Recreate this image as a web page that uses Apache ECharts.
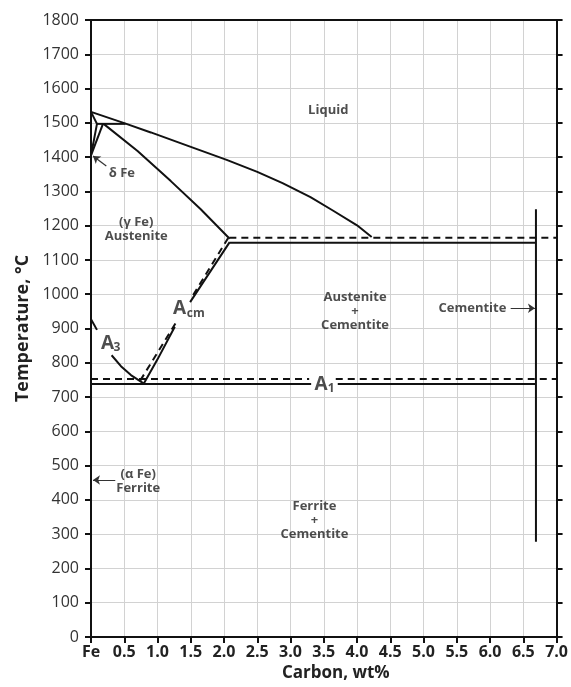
<!DOCTYPE html>
<html>
<head>
<meta charset="utf-8">
<script src="https://cdn.jsdelivr.net/npm/echarts@6/dist/echarts.min.js"></script>
<style>
html,body{margin:0;padding:0;background:#fff;}
#chart{width:571px;height:687px;}
</style>
</head>
<body>
<div id="chart"></div>
<script>
// ---- data (wt% C, °C) ----
const xTicks = ['Fe','0.5','1.0','1.5','2.0','2.5','3.0','3.5','4.0','4.5','5.0','5.5','6.0','6.5','7.0'];
const liquidus = [[0,1532],[0.5,1499],[0.9,1472],[1.5,1430],[2.04,1392],[2.5,1357],[2.88,1324],[3.3,1283],[3.63,1245],[4.0,1201],[4.22,1167]];
const solidusGamma = [[0.19,1497],[0.7,1418],[1.2,1330],[1.65,1248],[2.085,1162]];
const deltaSolidus = [[0,1532],[0.09,1497]];
const deltaLeft = [[0,1405],[0.09,1497]];
const deltaRight = [[0,1405],[0.18,1497]];
const peritectic = [[0.09,1497],[0.52,1497]];
const a3Upper = [[0,927],[0.09,896]];
const a3Lower = [[0.31,822],[0.45,790],[0.6,764],[0.79,740]];
const acmSolidLower = [[0.79,738],[1.0,810],[1.26,905]];
const acmSolidUpper = [[1.49,977],[1.8,1068],[2.085,1152]];
const acmDashedLower = [[0.74,748],[1.287,920]];
const acmDashedUpper = [[1.536,998],[2.06,1163]];
const eutecticSolid = [[2.085,1150],[6.69,1150]];
const eutecticDashed = [[2.08,1165],[7.0,1165]];
const a1SolidLeft = [[0,738],[3.31,738]];
const a1SolidRight = [[3.71,738],[6.69,738]];
const a1DashedLeft = [[0,753],[3.28,753]];
const a1DashedRight = [[3.68,753],[7.0,753]];
const cementiteLine = [[6.69,278],[6.69,1248]];

const regionLabels = [
  {name:'Liquid', value:[3.567,1537]},
  {name:'δ Fe', value:[0.464,1353]},
  {name:'(γ Fe)\nAustenite', value:[0.68,1189]},
  {name:'Austenite\n+\nCementite', value:[3.97,949]},
  {name:'Cementite', value:[5.735,959]},
  {name:'(α Fe)\nFerrite', value:[0.71,455]},
  {name:'Ferrite\n+\nCementite', value:[3.36,341]}
];
const bigLabels = [
  {name:'A', value:[1.333,957]},
  {name:'A', value:[0.25,855]},
  {name:'A', value:[3.46,736]}
];
const subLabels = [
  {name:'cm', value:[1.575,944]},
  {name:'3', value:[0.39,844]},
  {name:'1', value:[3.61,726]}
];
const arrows = [
  [[0.23,1374],[0.03,1403]],
  [[6.31,959],[6.675,959]],
  [[0.365,458],[0.03,458]]
];

const FONT = 'Open Sans';
const solid = (d) => ({type:'line', data:d, symbol:'none', z:3, silent:true,
  lineStyle:{color:'#111', width:2}});
const dashed = (d) => ({type:'line', data:d, symbol:'none', z:3, silent:true,
  lineStyle:{color:'#111', width:2, type:[7,5]}});
const textSeries = (data, z, label) => ({type:'scatter', data:data, symbol:'circle', symbolSize:1,
  itemStyle:{color:'rgba(0,0,0,0)'}, z:z, silent:true,
  label:Object.assign({show:true, position:'inside', formatter:'{b}', fontFamily:FONT,
    fontWeight:'bold', color:'#222', align:'center', verticalAlign:'middle'}, label)});

const chart = echarts.init(document.getElementById('chart'));
chart.setOption({
  animation:false,
  backgroundColor:'#fff',
  grid:{left:91, right:13, top:20, bottom:50},
  xAxis:[{
    type:'value', min:0, max:7, interval:0.5,
    axisLine:{show:true, onZero:false, lineStyle:{color:'#111', width:2}},
    axisTick:{show:true, length:6, lineStyle:{color:'#111', width:2}},
    axisLabel:{formatter:(v)=>xTicks[Math.round(v*2)], fontFamily:FONT, fontSize:16, fontWeight:'bold', color:'#222', margin:7},
    splitLine:{show:true, lineStyle:{color:'#d2d2d2', width:1}},
    name:'Carbon, wt%', nameLocation:'middle', nameGap:26,
    nameTextStyle:{fontFamily:FONT, fontSize:17, fontWeight:'bold', color:'#222', padding:[0,0,0,24]}
  },{
    type:'value', min:0, max:7, interval:0.5, position:'top',
    axisLine:{show:true, onZero:false, lineStyle:{color:'#111', width:2}},
    axisTick:{show:false}, axisLabel:{show:false}, splitLine:{show:false}
  }],
  yAxis:[{
    type:'value', min:0, max:1800, interval:100,
    axisLine:{show:true, onZero:false, lineStyle:{color:'#111', width:2}},
    axisTick:{show:true, length:6, lineStyle:{color:'#111', width:2}},
    axisLabel:{formatter:(v)=>String(v), fontFamily:FONT, fontSize:16, color:'#333', margin:12},
    splitLine:{show:true, lineStyle:{color:'#d2d2d2', width:1}},
    name:'Temperature, °C', nameLocation:'middle', nameRotate:90, nameGap:58,
    nameTextStyle:{fontFamily:FONT, fontSize:18, fontWeight:'bold', color:'#222'}
  },{
    type:'value', min:0, max:1800, interval:100, position:'right',
    axisLine:{show:true, onZero:false, lineStyle:{color:'#111', width:2}},
    axisTick:{show:true, length:6, lineStyle:{color:'#111', width:2}},
    axisLabel:{show:false}, splitLine:{show:false}
  }],
  series:[
    solid(liquidus), solid(solidusGamma), solid(deltaSolidus), solid(deltaLeft), solid(deltaRight),
    solid(peritectic), solid(a3Upper), solid(a3Lower),
    solid(acmSolidLower), solid(acmSolidUpper), dashed(acmDashedLower), dashed(acmDashedUpper),
    solid(eutecticSolid), dashed(eutecticDashed),
    solid(a1SolidLeft), solid(a1SolidRight), dashed(a1DashedLeft), dashed(a1DashedRight),
    solid(cementiteLine),
    {type:'lines', coordinateSystem:'cartesian2d', z:4, silent:true,
     symbol:['none','arrow'], symbolSize:7,
     lineStyle:{color:'#333', width:1.2, opacity:1},
     data:arrows.map(c=>({coords:c}))},
    textSeries(regionLabels, 6, {fontSize:13, lineHeight:14}),
    textSeries(bigLabels, 7, {fontSize:19, lineHeight:20}),
    textSeries(subLabels, 8, {fontSize:12, lineHeight:13})
  ]
});
</script>
</body>
</html>
